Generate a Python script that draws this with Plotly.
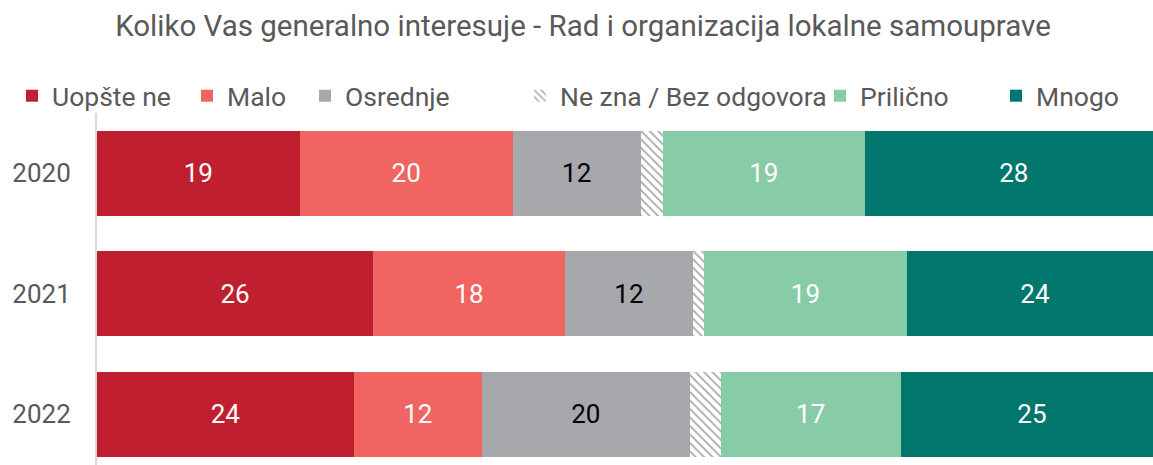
import plotly.graph_objects as go

years = ["2020", "2021", "2022"]
categories = ["Uopšte ne", "Malo", "Osrednje", "Ne zna / Bez odgovora", "Prilično", "Mnogo"]
uopste_ne = [19.0, 25.9, 24.1]
malo = [20.0, 18.0, 12.0]
osrednje = [12.0, 12.0, 19.5]
ne_zna = [2.1, 1.0, 2.9]
prilicno = [18.9, 19.1, 16.9]
mnogo = [28.0, 24.0, 24.6]

series = [uopste_ne, malo, osrednje, ne_zna, prilicno, mnogo]
colors = ["#C01F2F", "#F06461", "#A7A8AC", "#FFFFFF", "#88CBA7", "#00766C"]
text_colors = ["white", "white", "black", "black", "white", "white"]
legend_text_x = [52, 227, 345, 560, 860, 1036]

W, H = 1153, 465

fig = go.Figure()
for i, (name, vals) in enumerate(zip(categories, series)):
    is_nz = name.startswith("Ne zna")
    marker = dict(color=colors[i], line=dict(width=0))
    if is_nz:
        marker["pattern"] = dict(shape="\\", fgcolor="#A8A8A8", bgcolor="white",
                                 size=6, solidity=0.3, fillmode="replace")
    fig.add_trace(go.Bar(
        name=name, y=years, x=vals, orientation="h",
        marker=marker,
        text=None if is_nz else [f"{v:.0f}" for v in vals],
        textposition="inside" if not is_nz else "none",
        insidetextanchor="middle",
        textangle=0,
        insidetextfont=dict(color=text_colors[i], size=26, family="Roboto"),
        legend=f"legend{i+2}",
        hoverinfo="x+name",
    ))

layout_legends = {}
for i, tx in enumerate(legend_text_x):
    layout_legends[f"legend{i+2}"] = dict(
        x=(tx - 40) / W, y=1 - 96 / H, xref="container", yref="container",
        xanchor="left", yanchor="middle", orientation="h",
        font=dict(size=26.5, color="#595959", family="Roboto"),
        bgcolor="rgba(0,0,0,0)", itemwidth=30, tracegroupgap=0,
        itemclick=False,
    )

fig.update_layout(
    barmode="stack",
    bargap=0.295,
    width=W, height=H,
    showlegend=True,
    margin=dict(l=97, r=0, t=113, b=0, autoexpand=False),
    paper_bgcolor="white", plot_bgcolor="white",
    title=dict(text="Koliko Vas generalno interesuje - Rad i organizacija lokalne samouprave",
               x=583 / W, xanchor="center", y=1 - 26 / H, yanchor="middle",
               font=dict(size=29.5, color="#595959", family="Roboto")),
    xaxis=dict(range=[0, 99.06], visible=False, showgrid=False, zeroline=False),
    yaxis=dict(categoryorder="array", categoryarray=years, range=[2.42, -0.5],
               showline=True, linecolor="#D9D9D9", linewidth=2,
               ticks="", ticklabelstandoff=19,
               tickfont=dict(size=26, color="#595959", family="Roboto"),
               showgrid=False, zeroline=False),
    uniformtext=dict(mode=False),
    **layout_legends,
)

fig.write_html("out.html", config={"displayModeBar": False},
               post_script="document.body.style.margin='0';")
